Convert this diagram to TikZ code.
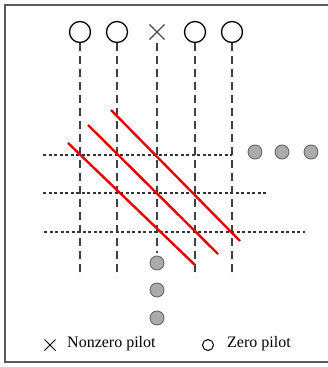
\documentclass[tikz,border=0pt]{standalone}
\usepackage{fontspec}
\setmainfont{Liberation Serif}
\usetikzlibrary{shapes.misc}
\begin{document}
\begin{tikzpicture}[x=1pt,y=-1pt,
  pilot/.style={circle,draw=black,line width=1.3pt,minimum size=21pt,inner sep=0pt},
  xpilot/.style={cross out,draw=black!70,line width=1.1pt,minimum size=14pt,inner sep=0pt},
  gdot/.style={circle,draw=black!60,fill=black!33,line width=0.9pt,minimum size=14pt,inner sep=0pt},
  vline/.style={dash pattern=on 8pt off 5pt,draw=black!75,line width=1.3pt},
  hline/.style={dash pattern=on 3pt off 2.5pt,draw=black!80,line width=1.2pt},
  redline/.style={draw=red!90!black,line width=2.4pt},
  lbl/.style={font=\fontsize{16}{16}\selectfont,inner sep=0pt,anchor=west}]
\useasboundingbox (0,0) rectangle (328,367);
\draw[black!65,line width=1.8pt] (340,5) -- (5,5) -- (5,362) -- (340,362);
% top pilots
\node[pilot] (p1) at (80,32) {};
\node[pilot] (p2) at (117,32) {};
\node[xpilot] (p3) at (157,32) {};
\node[pilot] (p4) at (195,32) {};
\node[pilot] (p5) at (232,32) {};
% bottom ends
\coordinate (b1) at (80,277);
\coordinate (b2) at (117,277);
\coordinate (b3) at (157,253);
\coordinate (b4) at (195,277);
\coordinate (b5) at (232,277);
\draw[vline] (80,43) -- (b1);
\draw[vline] (117,43) -- (b2);
\draw[vline] (157,43) -- (b3);
\draw[vline] (195,43) -- (b4);
\draw[vline] (232,43) -- (b5);
% horizontal dotted
\coordinate (h1a) at (43,155); \coordinate (h1b) at (232,155);
\coordinate (h2a) at (43,193); \coordinate (h2b) at (268,193);
\coordinate (h3a) at (44,232); \coordinate (h3b) at (305,232);
\draw[hline] (h1a) -- (h1b);
\draw[hline] (h2a) -- (h2b);
\draw[hline] (h3a) -- (h3b);
% red diagonals
\coordinate (r1a) at (68,143); \coordinate (r1b) at (195,265);
\coordinate (r2a) at (88,125); \coordinate (r2b) at (218,254);
\coordinate (r3a) at (111,110); \coordinate (r3b) at (240,241);
\draw[redline] (r1a) -- (r1b);
\draw[redline] (r2a) -- (r2b);
\draw[redline] (r3a) -- (r3b);
% gray dots
\node[gdot] (g1) at (255,152) {};
\node[gdot] (g2) at (282,152) {};
\node[gdot] (g3) at (311,152) {};
\node[gdot] (g4) at (157,263) {};
\node[gdot] (g5) at (157,290) {};
\node[gdot] (g6) at (157,318) {};
% legend
\node[cross out,draw=black,line width=1pt,minimum size=10pt,inner sep=0pt] (lx) at (50,345) {};
\node[lbl] (ltx) at (67,344) {Nonzero pilot};
\node[circle,draw=black,line width=1pt,minimum size=11pt,inner sep=0pt] (lo) at (208,345) {};
\node[lbl] (lto) at (227,344) {Zero pilot};
\end{tikzpicture}
\end{document}
